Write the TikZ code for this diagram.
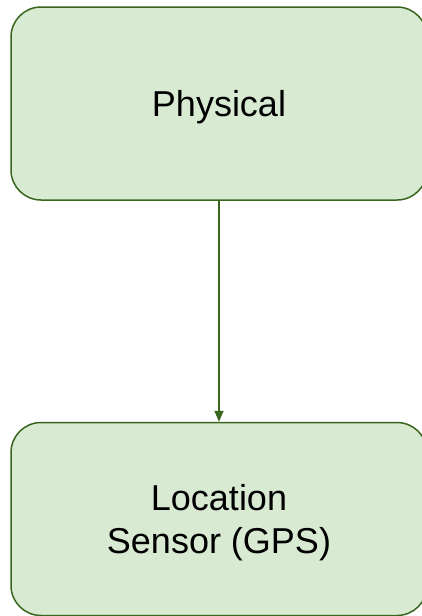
\documentclass[tikz,border=0pt]{standalone}
\usepackage{fontspec}
\setmainfont{Liberation Sans}
\usetikzlibrary{arrows.meta}
\definecolor{boxfill}{HTML}{D9EAD3}
\definecolor{boxline}{HTML}{38661E}
\begin{document}
\begin{tikzpicture}[x=1pt,y=1pt,
  box/.style={draw=boxline, fill=boxfill, line width=1.5pt, rounded corners=30pt,
    minimum width=416pt, minimum height=193pt, inner sep=0pt, align=center,
    font=\fontsize{36}{43}\selectfont},
  conn/.style={draw=boxline, line width=1.5pt, -{Triangle[length=11pt,width=9pt]}}]
\useasboundingbox (0,0) rectangle (422,-616);
\node[box] (phys) at (219,-103.5) {\raisebox{-4pt}[\height][\depth]{Physical}};
\node[box] (gps) at (219,-519) {\raisebox{-4pt}[\height][\depth]{\begin{tabular}{@{}c@{}}Location\\Sensor (GPS)\end{tabular}}};
\draw[conn] (phys.south) -- (gps.north);
\end{tikzpicture}
\end{document}
